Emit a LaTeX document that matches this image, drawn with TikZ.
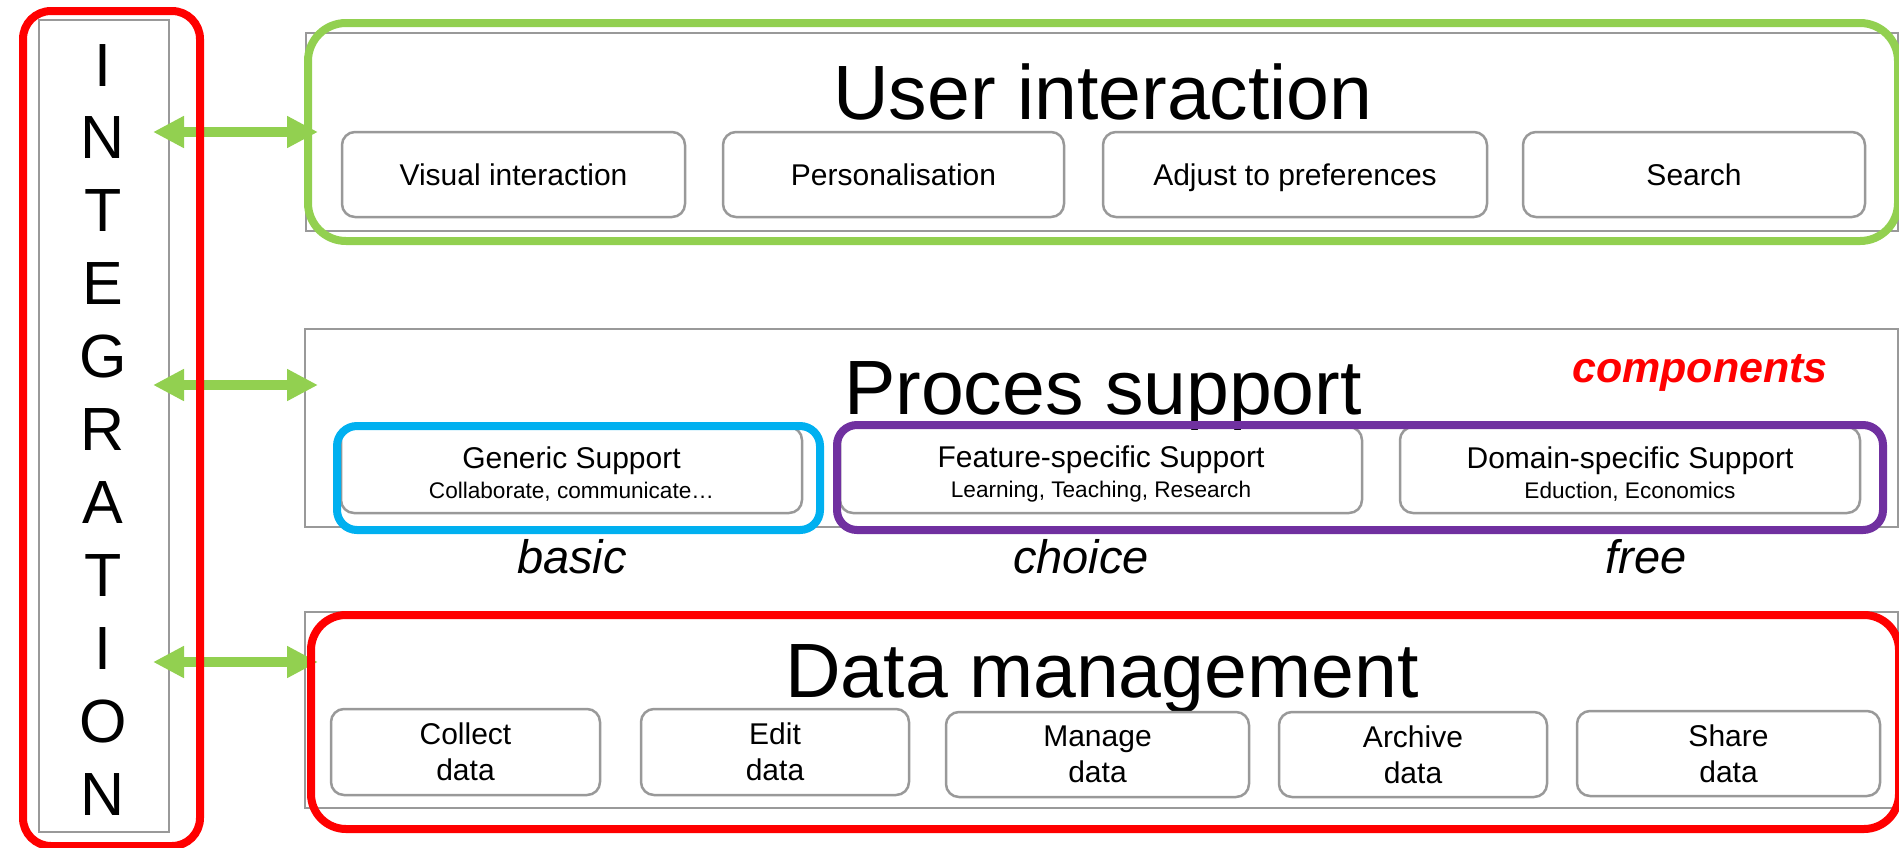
\documentclass[tikz,border=0pt]{standalone}
\usepackage{fontspec}
\setmainfont{Liberation Sans}
\usetikzlibrary{arrows.meta}
\definecolor{grn}{HTML}{92D050}
\definecolor{myred}{HTML}{FF0000}
\definecolor{myblue}{HTML}{00B0F0}
\definecolor{mypurple}{HTML}{7030A0}
\definecolor{boxgray}{HTML}{999999}
\begin{document}
\begin{tikzpicture}[x=1pt,y=-1pt,
  layer/.style={draw=boxgray,line width=2pt,inner sep=0pt,anchor=north west},
  sub/.style={draw=boxgray,line width=2.5pt,rounded corners=13pt,inner sep=0pt,
    font=\fontsize{30}{36}\selectfont,align=center},
  single/.style={text height=22pt,text depth=0pt},
  frame/.style={draw=#1,line width=8pt,inner sep=0pt,anchor=north west},
  title/.style={anchor=base,font=\fontsize{77}{80}\selectfont},
  tag/.style={anchor=base,font=\fontsize{47}{50}\selectfont\itshape},
  letter/.style={anchor=base,font=\fontsize{61}{64}\selectfont},
  intarrow/.style={draw=grn,line width=10pt,
    arrows={Triangle[length=31pt,width=30pt]-Triangle[length=31pt,width=30pt]}}
]
\useasboundingbox (0,0) rectangle (1899,847);

% layer boxes
\node[layer,minimum width=130pt,minimum height=812pt] (integ) at (38,19) {};
\node[layer,minimum width=1592pt,minimum height=198pt] (ui) at (305,32) {};
\node[layer,minimum width=1593pt,minimum height=198pt] (ps) at (304,328) {};
\node[layer,minimum width=1593pt,minimum height=196pt] (dm) at (304,611) {};

% INTEGRATION letters
\foreach \l [count=\i] in {I,N,T,E,G,R,A,T,I,O,N}
  \node[letter] (L\i) at (103,{86+72.9*(\i-1)}) {\l};

% titles
\node[title] (uit) at (1103,119) {User interaction};
\node[title] (pst) at (1103,414) {Proces support};
\node[title] (dmt) at (1102,697) {Data management};
\node[anchor=base,text=myred,font=\fontsize{43}{46}\selectfont\bfseries\itshape] (comp) at (1700,382) {components};

% user interaction sub boxes
\node[sub,single,minimum width=343pt,minimum height=85pt] (vi) at (513.5,174.5) {Visual interaction};
\node[sub,single,minimum width=341pt,minimum height=85pt] (pers) at (893.5,174.5) {Personalisation};
\node[sub,single,minimum width=384pt,minimum height=85pt] (adj) at (1295,174.5) {Adjust to preferences};
\node[sub,single,minimum width=342pt,minimum height=85pt] (srch) at (1694,174.5) {Search};

% process support sub boxes
\node[sub,font=\fontsize{30}{30}\selectfont,minimum width=461pt,minimum height=86pt] (gen) at (571.5,470)
  {\rule{0pt}{30pt}Generic Support\\{\fontsize{22.6}{30}\selectfont Collaborate, communicate…}};
\node[sub,font=\fontsize{30}{30}\selectfont,minimum width=522pt,minimum height=86pt] (feat) at (1101,470)
  {\rule{0pt}{30pt}Feature-specific Support\\{\fontsize{22.6}{30}\selectfont Learning, Teaching, Research}};
\node[sub,font=\fontsize{30}{30}\selectfont,minimum width=460pt,minimum height=86pt] (dom) at (1630,470)
  {\rule{0pt}{30pt}Domain-specific Support\\{\fontsize{22.6}{30}\selectfont Eduction, Economics}};

% tags
\node[tag] (basic) at (572,573) {basic};
\node[tag] (choice) at (1081,573) {choice};
\node[tag] (free) at (1646,573) {free};

% data management sub boxes
\node[sub,minimum width=269pt,minimum height=86pt] (col) at (465.5,752) {Collect\\data};
\node[sub,minimum width=268pt,minimum height=86pt] (edit) at (775,752) {Edit\\data};
\node[sub,minimum width=303pt,minimum height=85pt] (man) at (1097.5,754.5) {Manage\\data};
\node[sub,minimum width=268pt,minimum height=85pt] (arch) at (1413,754.5) {Archive\\data};
\node[sub,minimum width=303pt,minimum height=85pt] (share) at (1728.5,753.5) {Share\\data};

% arrows
\coordinate (a1) at (153,132); \coordinate (b1) at (318,132);
\coordinate (a2) at (153,385); \coordinate (b2) at (318,385);
\coordinate (a3) at (153,662); \coordinate (b3) at (318,662);
\draw[intarrow] (a1) -- (b1);
\draw[intarrow] (a2) -- (b2);
\draw[intarrow] (a3) -- (b3);

% highlight frames
\node[frame=myred,rounded corners=28pt,minimum width=177pt,minimum height=835pt] (fint) at (19,7) {};
\node[frame=grn,rounded corners=38pt,minimum width=1590pt,minimum height=218pt] (fui) at (304,19) {};
\node[frame=myblue,rounded corners=20pt,minimum width=483pt,minimum height=104pt] (fbas) at (333,422) {};
\node[frame=mypurple,rounded corners=20pt,minimum width=1046pt,minimum height=105pt] (fcho) at (833,421) {};
\node[frame=myred,rounded corners=35pt,minimum width=1588pt,minimum height=214pt] (fdm) at (307,611) {};
\end{tikzpicture}
\end{document}
